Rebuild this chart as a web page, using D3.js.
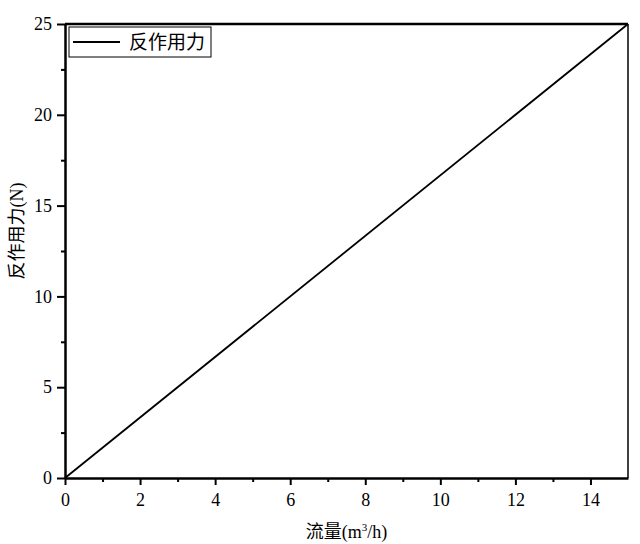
<!DOCTYPE html>
<html lang="zh">
<head>
<meta charset="utf-8">
<title>反作用力</title>
<script src="https://d3js.org/d3.v7.min.js"></script>
<style>
  body { margin: 0; background: #fff; }
</style>
</head>
<body>
<div id="chart"></div>
<script>
// data
var flow = [0, 15];          // m3/h
var force = [0, 25];         // N
var xTicks = [0, 2, 4, 6, 8, 10, 12, 14];
var yTicks = [0, 5, 10, 15, 20, 25];
var seriesName = "反作用力";

var serif = "'Liberation Serif', 'DejaVu Serif', serif";
var mixed = "'Liberation Serif', 'Noto Sans CJK SC', serif";

var W = 640, H = 544;
var margin = {top: 24, right: 12, bottom: 66, left: 65},
    width = W - margin.left - margin.right,
    height = H - margin.top - margin.bottom;

var svg = d3.select("#chart").append("svg")
    .attr("width", W).attr("height", H)
  .append("g")
    .attr("transform", "translate(" + margin.left + "," + margin.top + ")");

var x = d3.scaleLinear().domain([0, 15]).range([0, width]);
var y = d3.scaleLinear().domain([0, 25]).range([height, 0]);

// minor ticks
var xMinor = d3.range(1, 15, 2);
var yMinor = d3.range(2.5, 25, 5);

svg.append("g")
  .attr("transform", "translate(0," + height + ")")
  .call(d3.axisBottom(x).tickValues(xMinor).tickSize(4).tickFormat(""))
  .call(function(g) { g.select(".domain").remove(); g.selectAll("line").attr("stroke-width", 2); });
svg.append("g")
  .call(d3.axisLeft(y).tickValues(yMinor).tickSize(4).tickFormat(""))
  .call(function(g) { g.select(".domain").remove(); g.selectAll("line").attr("stroke-width", 2); });

var xAxis = svg.append("g")
  .attr("transform", "translate(0," + height + ")")
  .call(d3.axisBottom(x).tickValues(xTicks).tickSize(7).tickPadding(8).tickSizeOuter(0));
var yAxis = svg.append("g")
  .call(d3.axisLeft(y).tickValues(yTicks).tickSize(8).tickPadding(5).tickSizeOuter(0));
[xAxis, yAxis].forEach(function(a) {
  a.attr("font-family", serif).attr("font-size", 18);
  a.select(".domain").attr("stroke-width", 2.5);
  a.selectAll(".tick line").attr("stroke-width", 2);
  a.selectAll(".tick text").attr("fill", "#000");
});

// top and right frame
svg.append("line").attr("x1", 0).attr("x2", width).attr("y1", 0).attr("y2", 0)
  .attr("stroke", "#000").attr("stroke-width", 2.5);
svg.append("line").attr("x1", width).attr("x2", width).attr("y1", 0).attr("y2", height)
  .attr("stroke", "#000").attr("stroke-width", 1.5);

// series line
var pts = flow.map(function(d, i) { return [d, force[i]]; });
svg.append("path")
  .datum(pts)
  .attr("fill", "none")
  .attr("stroke", "#000")
  .attr("stroke-width", 1.8)
  .attr("d", d3.line().x(function(d) { return x(d[0]); }).y(function(d) { return y(d[1]); }));

// legend
var lg = svg.append("g").attr("transform", "translate(4,3)");
lg.append("rect").attr("width", 142).attr("height", 30)
  .attr("fill", "#fff").attr("stroke", "#000").attr("stroke-width", 1);
lg.append("line").attr("x1", 4).attr("x2", 51).attr("y1", 15).attr("y2", 15)
  .attr("stroke", "#000").attr("stroke-width", 1.8);
lg.append("text").attr("x", 60).attr("y", 22)
  .style("font-family", "'Noto Sans CJK SC', sans-serif").style("font-size", "19px")
  .text(seriesName);

// axis titles
svg.append("text")
  .attr("x", width / 2).attr("y", height + 60)
  .attr("text-anchor", "middle")
  .style("font-family", mixed).style("font-size", "18px")
  .html("流量(m<tspan dy='-7' font-size='11px'>3</tspan><tspan dy='7'>/h)</tspan>");

svg.append("text")
  .attr("transform", "translate(-42," + (height / 2 - 20) + ") rotate(-90)")
  .attr("text-anchor", "middle")
  .style("font-family", mixed).style("font-size", "18px")
  .text("反作用力(N)");
</script>
</body>
</html>
